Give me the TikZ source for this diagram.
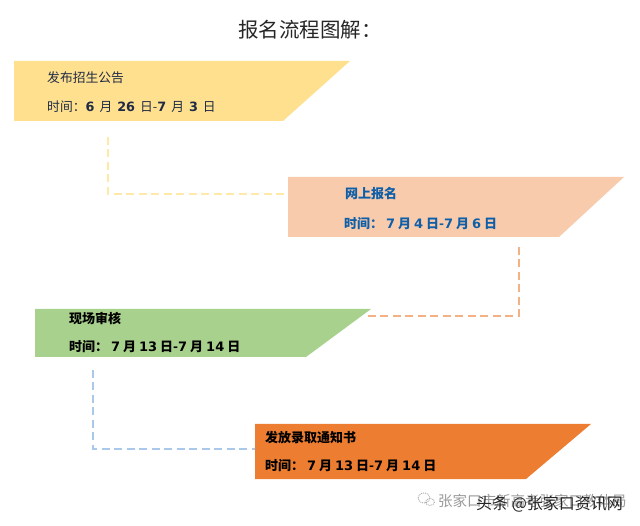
\documentclass[tikz,border=0pt]{standalone}
\usepackage{fontspec}
\setmainfont{Noto Sans CJK SC}
\newfontfamily\digitfont{DejaVu Sans}
\newcommand{\daynum}[1]{{\digitfont\bfseries #1}}

\definecolor{yellowfill}{HTML}{FFE08F}
\definecolor{peachfill}{HTML}{F8CBAD}
\definecolor{greenfill}{HTML}{A9D18E}
\definecolor{orangefill}{HTML}{ED7D31}
\definecolor{yellowline}{HTML}{FFE9A8}
\definecolor{peachline}{HTML}{F4B183}
\definecolor{blueline}{HTML}{A9C8EA}
\definecolor{bluetext}{HTML}{0F5FA8}
\definecolor{navytext}{HTML}{1F2A44}

\begin{document}
\begin{tikzpicture}[
            x = 1pt,
            y = -1pt,
            bannertext/.style = {anchor = west, inner sep = 0pt, font = \fontsize{12.8}{14}\selectfont},
            boldtext/.style = {bannertext, font = \fontsize{13}{14}\selectfont\bfseries},
            link/.style = {dash pattern = on 8pt off 4.5pt, line width = 1.4pt}
        ]

        \useasboundingbox (0,0) rectangle (640,526);

        \node[anchor = west, inner sep = 0pt, font = \fontsize{20.5}{22}\selectfont, text = black!85] (title) at (238,30) {报名流程图解：};

        % banners
        \fill[yellowfill] (14,61) -- (350,61) -- (283,121) -- (14,121) -- cycle;
        \fill[peachfill] (288,177) -- (624,177) -- (559,237) -- (288,237) -- cycle;
        \fill[greenfill] (35,309) -- (371,309) -- (306,357) -- (35,357) -- cycle;
        \fill[orangefill] (255,424) -- (591,424) -- (526,479) -- (255,479) -- cycle;

        \node[bannertext, text = navytext] (noticename) at (47,78) {发布招生公告};
        \node[bannertext, text = navytext] (noticedate) at (47,107) {时间：\daynum{6}\, 月\, \daynum{26}\, 日-\daynum{7}\, 月\, \daynum{3}\, 日};
        \node[boldtext, text = bluetext] (onlinename) at (345,194) {网上报名};
        \node[boldtext, text = bluetext] (onlinedate) at (344,224) {时间： \daynum{7} 月 \daynum{4} 日-\daynum{7} 月 \daynum{6} 日};
        \node[boldtext, text = black] (reviewname) at (69,318) {现场审核};
        \node[boldtext, text = black] (reviewdate) at (69,347) {时间： \daynum{7} 月 \daynum{13} 日-\daynum{7} 月 \daynum{14} 日};
        \node[boldtext, text = black] (lettername) at (265,438) {发放录取通知书};
        \node[boldtext, text = black] (letterdate) at (265,466) {时间： \daynum{7} 月 \daynum{13} 日-\daynum{7} 月 \daynum{14} 日};

        % dashed links
        \coordinate (noticeout) at (108,137);
        \coordinate (onlinein) at (288,194);
        \coordinate (onlineout) at (519,247);
        \coordinate (reviewin) at (365,316);
        \coordinate (reviewout) at (93,370);
        \coordinate (letterin) at (255,449);

        \draw[link, yellowline] (noticeout) |- (onlinein);
        \draw[link, peachline] (onlineout) |- (reviewin);
        \draw[link, blueline] (reviewout) |- (letterin);

        % credits
        \draw[black!35, densely dotted, line width = 0.9pt] (424,498) ellipse (6 and 5);
        \draw[black!35, densely dotted, line width = 0.9pt] (430,502) ellipse (4.5 and 3.5);
        \node[bannertext, text = black!40, font = \fontsize{14.5}{16}\selectfont] (account) at (438,501) {张家口市新高考张家口教体局};
        \node[bannertext, text = black!85, font = \fontsize{16}{18}\selectfont] (source) at (476,504) {头条 @张家口资讯网};

    \end{tikzpicture}
\end{document}
